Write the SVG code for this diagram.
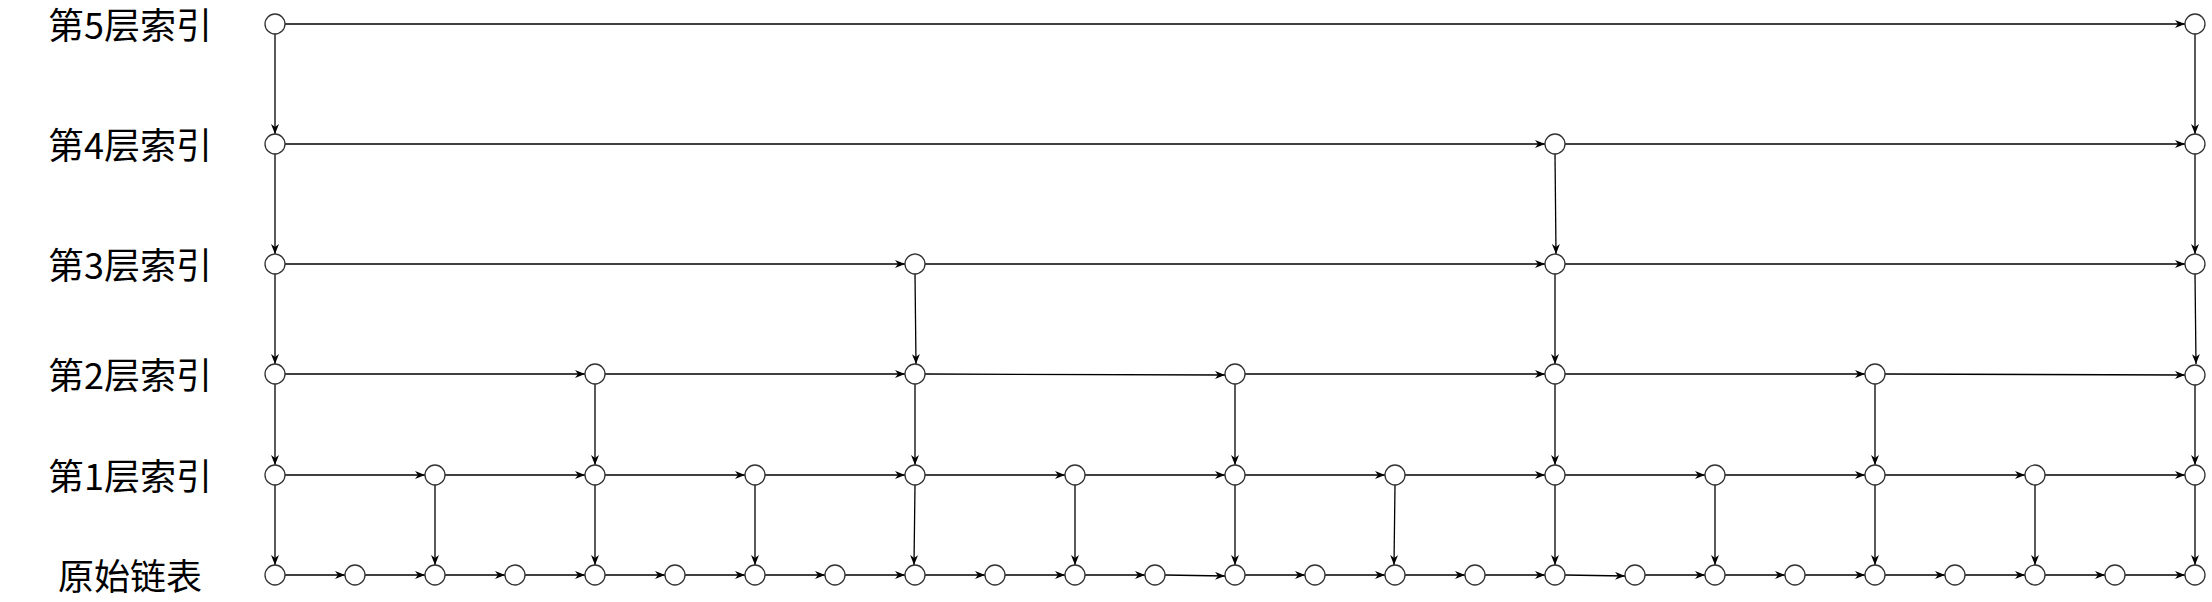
<svg xmlns="http://www.w3.org/2000/svg" width="2212" height="602" viewBox="0 0 2212 602">
<style>
.node{fill:#fff;stroke:#333;stroke-width:1.3}
.lbl{font-family:"Noto Sans CJK SC","Liberation Sans",sans-serif;font-size:36px;fill:#000;text-anchor:middle}
.c line{stroke:#000;stroke-width:1.3;marker-end:url(#arr)}
</style>
<defs>
<marker id="arr" markerUnits="userSpaceOnUse" markerWidth="10" markerHeight="8" refX="10" refY="4" orient="auto">
<path d="M0,0 L10,4 L0,8 L3,4 Z" fill="#000"/>
</marker>
</defs>
<rect width="2212" height="602" fill="#fff"/>
<g id="labels">
<text class="lbl" x="130" y="39">第5层索引</text>
<text class="lbl" x="130" y="159">第4层索引</text>
<text class="lbl" x="130" y="279">第3层索引</text>
<text class="lbl" x="130" y="389">第2层索引</text>
<text class="lbl" x="130" y="490">第1层索引</text>
<text class="lbl" x="130" y="590">原始链表</text>
</g>
<g id="connectors" class="c">
<!-- level 5 -->
<line x1="285" y1="24" x2="2185" y2="24"/>
<line x1="275" y1="34" x2="275" y2="134"/>
<line x1="2195" y1="34" x2="2195" y2="134"/>
<!-- level 4 -->
<line x1="285" y1="144" x2="1545" y2="144"/>
<line x1="1565" y1="144" x2="2185" y2="144"/>
<line x1="275" y1="154" x2="275" y2="254"/>
<line x1="1555" y1="154" x2="1556" y2="254"/>
<line x1="2195" y1="154" x2="2195" y2="254"/>
<!-- level 3 -->
<line x1="285" y1="264" x2="905" y2="264"/>
<line x1="925" y1="264" x2="1545" y2="264"/>
<line x1="1565" y1="264" x2="2185" y2="264"/>
<line x1="275" y1="274" x2="275" y2="364"/>
<line x1="915" y1="274" x2="916" y2="364"/>
<line x1="1555" y1="274" x2="1555" y2="364"/>
<line x1="2195" y1="274" x2="2196" y2="364"/>
<!-- level 2 -->
<line x1="285" y1="374" x2="585" y2="374"/>
<line x1="605" y1="374" x2="905" y2="374"/>
<line x1="925" y1="374" x2="1225" y2="375"/>
<line x1="1245" y1="374" x2="1545" y2="374"/>
<line x1="1565" y1="374" x2="1865" y2="374"/>
<line x1="1885" y1="374" x2="2185" y2="375"/>
<line x1="275" y1="384" x2="275" y2="465"/>
<line x1="595" y1="384" x2="595" y2="465"/>
<line x1="915" y1="384" x2="915" y2="465"/>
<line x1="1235" y1="384" x2="1235" y2="465"/>
<line x1="1555" y1="384" x2="1555" y2="465"/>
<line x1="1875" y1="384" x2="1875" y2="465"/>
<line x1="2195" y1="384" x2="2195" y2="465"/>
<!-- level 1 -->
<line x1="285" y1="475" x2="425" y2="475"/>
<line x1="445" y1="475" x2="585" y2="475"/>
<line x1="605" y1="475" x2="745" y2="475"/>
<line x1="765" y1="475" x2="905" y2="475"/>
<line x1="925" y1="475" x2="1065" y2="475"/>
<line x1="1085" y1="475" x2="1225" y2="475"/>
<line x1="1245" y1="475" x2="1385" y2="475"/>
<line x1="1405" y1="475" x2="1545" y2="475"/>
<line x1="1565" y1="475" x2="1705" y2="475"/>
<line x1="1725" y1="475" x2="1865" y2="475"/>
<line x1="1885" y1="475" x2="2025" y2="475"/>
<line x1="2045" y1="475" x2="2185" y2="475"/>
<line x1="275" y1="485" x2="275" y2="565"/>
<line x1="435" y1="485" x2="435" y2="565"/>
<line x1="595" y1="485" x2="595" y2="565"/>
<line x1="755" y1="485" x2="755" y2="565"/>
<line x1="915" y1="485" x2="914" y2="565"/>
<line x1="1075" y1="485" x2="1075" y2="565"/>
<line x1="1235" y1="485" x2="1235" y2="565"/>
<line x1="1395" y1="485" x2="1394" y2="565"/>
<line x1="1555" y1="485" x2="1555" y2="565"/>
<line x1="1715" y1="485" x2="1715" y2="565"/>
<line x1="1875" y1="485" x2="1875" y2="565"/>
<line x1="2035" y1="485" x2="2035" y2="565"/>
<line x1="2195" y1="485" x2="2195" y2="565"/>
<!-- raw list -->
<line x1="285" y1="575" x2="345" y2="575"/>
<line x1="365" y1="575" x2="425" y2="575"/>
<line x1="445" y1="575" x2="505" y2="575"/>
<line x1="525" y1="575" x2="585" y2="575"/>
<line x1="605" y1="575" x2="665" y2="575"/>
<line x1="685" y1="575" x2="745" y2="575"/>
<line x1="765" y1="575" x2="825" y2="575"/>
<line x1="845" y1="575" x2="905" y2="575"/>
<line x1="925" y1="575" x2="985" y2="575"/>
<line x1="1005" y1="575" x2="1065" y2="575"/>
<line x1="1085" y1="575" x2="1145" y2="575"/>
<line x1="1165" y1="575" x2="1225" y2="576"/>
<line x1="1245" y1="575" x2="1305" y2="575"/>
<line x1="1325" y1="575" x2="1385" y2="575"/>
<line x1="1405" y1="575" x2="1465" y2="575"/>
<line x1="1485" y1="575" x2="1545" y2="575"/>
<line x1="1565" y1="575" x2="1625" y2="576"/>
<line x1="1645" y1="575" x2="1705" y2="575"/>
<line x1="1725" y1="575" x2="1785" y2="575"/>
<line x1="1805" y1="575" x2="1865" y2="575"/>
<line x1="1885" y1="575" x2="1945" y2="575"/>
<line x1="1965" y1="575" x2="2025" y2="575"/>
<line x1="2045" y1="575" x2="2105" y2="575"/>
<line x1="2125" y1="575" x2="2185" y2="575"/>
</g>
<g id="nodes">
<g id="L5_0"><circle class="node" cx="275" cy="24" r="10"/></g>
<g id="L5_24"><circle class="node" cx="2195" cy="24" r="10"/></g>
<g id="L4_0"><circle class="node" cx="275" cy="144" r="10"/></g>
<g id="L4_16"><circle class="node" cx="1555" cy="144" r="10"/></g>
<g id="L4_24"><circle class="node" cx="2195" cy="144" r="10"/></g>
<g id="L3_0"><circle class="node" cx="275" cy="264" r="10"/></g>
<g id="L3_8"><circle class="node" cx="915" cy="264" r="10"/></g>
<g id="L3_16"><circle class="node" cx="1555" cy="264" r="10"/></g>
<g id="L3_24"><circle class="node" cx="2195" cy="264" r="10"/></g>
<g id="L2_0"><circle class="node" cx="275" cy="374" r="10"/></g>
<g id="L2_4"><circle class="node" cx="595" cy="374" r="10"/></g>
<g id="L2_8"><circle class="node" cx="915" cy="374" r="10"/></g>
<g id="L2_12"><circle class="node" cx="1235" cy="374" r="10"/></g>
<g id="L2_16"><circle class="node" cx="1555" cy="374" r="10"/></g>
<g id="L2_20"><circle class="node" cx="1875" cy="374" r="10"/></g>
<g id="L2_24"><circle class="node" cx="2195" cy="375" r="10"/></g>
<g id="L1_0"><circle class="node" cx="275" cy="475" r="10"/></g>
<g id="L1_2"><circle class="node" cx="435" cy="475" r="10"/></g>
<g id="L1_4"><circle class="node" cx="595" cy="475" r="10"/></g>
<g id="L1_6"><circle class="node" cx="755" cy="475" r="10"/></g>
<g id="L1_8"><circle class="node" cx="915" cy="475" r="10"/></g>
<g id="L1_10"><circle class="node" cx="1075" cy="475" r="10"/></g>
<g id="L1_12"><circle class="node" cx="1235" cy="475" r="10"/></g>
<g id="L1_14"><circle class="node" cx="1395" cy="475" r="10"/></g>
<g id="L1_16"><circle class="node" cx="1555" cy="475" r="10"/></g>
<g id="L1_18"><circle class="node" cx="1715" cy="475" r="10"/></g>
<g id="L1_20"><circle class="node" cx="1875" cy="475" r="10"/></g>
<g id="L1_22"><circle class="node" cx="2035" cy="475" r="10"/></g>
<g id="L1_24"><circle class="node" cx="2195" cy="475" r="10"/></g>
<g id="R_0"><circle class="node" cx="275" cy="575" r="10"/></g>
<g id="R_1"><circle class="node" cx="355" cy="575" r="10"/></g>
<g id="R_2"><circle class="node" cx="435" cy="575" r="10"/></g>
<g id="R_3"><circle class="node" cx="515" cy="575" r="10"/></g>
<g id="R_4"><circle class="node" cx="595" cy="575" r="10"/></g>
<g id="R_5"><circle class="node" cx="675" cy="575" r="10"/></g>
<g id="R_6"><circle class="node" cx="755" cy="575" r="10"/></g>
<g id="R_7"><circle class="node" cx="835" cy="575" r="10"/></g>
<g id="R_8"><circle class="node" cx="915" cy="575" r="10"/></g>
<g id="R_9"><circle class="node" cx="995" cy="575" r="10"/></g>
<g id="R_10"><circle class="node" cx="1075" cy="575" r="10"/></g>
<g id="R_11"><circle class="node" cx="1155" cy="575" r="10"/></g>
<g id="R_12"><circle class="node" cx="1235" cy="575" r="10"/></g>
<g id="R_13"><circle class="node" cx="1315" cy="575" r="10"/></g>
<g id="R_14"><circle class="node" cx="1395" cy="575" r="10"/></g>
<g id="R_15"><circle class="node" cx="1475" cy="575" r="10"/></g>
<g id="R_16"><circle class="node" cx="1555" cy="575" r="10"/></g>
<g id="R_17"><circle class="node" cx="1635" cy="575" r="10"/></g>
<g id="R_18"><circle class="node" cx="1715" cy="575" r="10"/></g>
<g id="R_19"><circle class="node" cx="1795" cy="575" r="10"/></g>
<g id="R_20"><circle class="node" cx="1875" cy="575" r="10"/></g>
<g id="R_21"><circle class="node" cx="1955" cy="575" r="10"/></g>
<g id="R_22"><circle class="node" cx="2035" cy="575" r="10"/></g>
<g id="R_23"><circle class="node" cx="2115" cy="575" r="10"/></g>
<g id="R_24"><circle class="node" cx="2195" cy="575" r="10"/></g>
</g>
</svg>
